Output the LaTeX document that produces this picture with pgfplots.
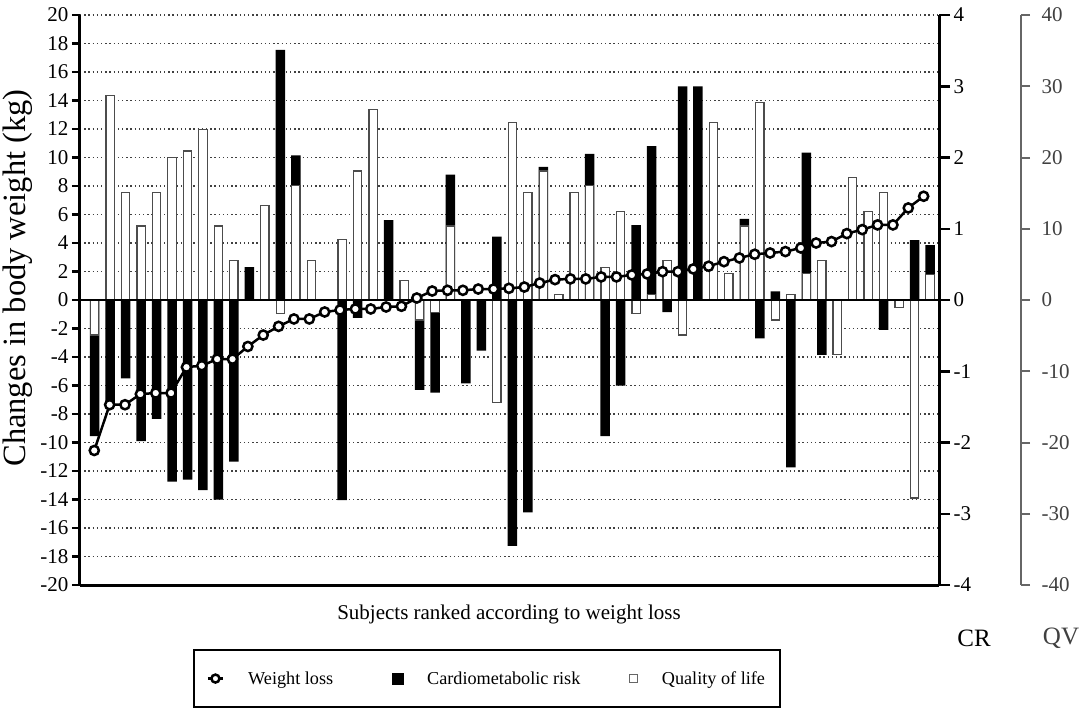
\documentclass[border=0pt]{standalone}
\usepackage{fontspec}
\setmainfont{Liberation Serif}
\usepackage{pgfplots}
\usepackage{pgfplotstable}
\pgfplotsset{compat=1.18}

\pgfplotstableread{
i wl cr qv
0 -10.56 -1.91 -4.9
1 -7.35 -1.46 28.7
2 -7.35 -1.10 15.1
3 -6.60 -1.98 10.4
4 -6.53 -1.67 15.1
5 -6.53 -2.55 20.0
6 -4.71 -2.52 20.9
7 -4.61 -2.67 23.9
8 -4.15 -2.80 10.4
9 -4.15 -2.27 5.6
10 -3.26 0.46 0
11 -2.46 0 13.3
12 -1.85 3.51 -1.9
13 -1.33 2.03 16.1
14 -1.33 0 5.6
15 -0.84 0 0
16 -0.70 -2.81 8.5
17 -0.63 -0.25 18.1
18 -0.63 0 26.7
19 -0.49 1.12 0
20 -0.44 0 2.7
21 0.14 -1.26 -2.8
22 0.63 -1.30 -1.8
23 0.68 1.76 10.4
24 0.68 -1.17 0
25 0.77 -0.71 0
26 0.77 0.89 -14.4
27 0.82 -3.45 24.9
28 0.91 -2.98 15.1
29 1.19 1.87 18.1
30 1.43 0 0.8
31 1.48 0 15.1
32 1.48 2.05 16.1
33 1.62 -1.91 4.6
34 1.62 -1.20 12.4
35 1.76 1.05 -1.9
36 1.83 2.16 0.8
37 1.99 -0.17 5.6
38 1.99 3.00 -4.9
39 2.18 3.00 0
40 2.37 0 24.9
41 2.69 0 3.7
42 2.95 1.14 10.4
43 3.21 -0.54 27.7
44 3.30 0.12 -2.8
45 3.40 -2.35 0.8
46 3.65 2.07 3.7
47 4.00 -0.77 5.6
48 4.10 0 -7.7
49 4.66 0 17.2
50 4.94 0 12.4
51 5.27 -0.42 15.1
52 5.27 0 -1.0
53 6.46 0.84 -27.8
54 7.28 0.77 3.6
}\data

\pgfplotsset{
  wlimg/.style={legend image code/.code={\draw[black, line width=2.5pt, mark=*, mark size=4pt,
     mark options={fill=white, draw=black, line width=2.5pt}, mark repeat=2, mark phase=2]
     plot coordinates {(0pt,0pt) (7.5pt,0pt) (15pt,0pt)};}},
  crimg/.style={legend image code/.code={\draw[black, mark=square*, mark size=5pt,
     mark options={fill=black}] plot coordinates {(7.5pt,0pt)};}},
  qvimg/.style={legend image code/.code={\draw[black!70, mark=square*, mark size=4.3pt,
     mark options={fill=white, draw=black!60, line width=1.1pt}] plot coordinates {(7.5pt,0pt)};}}
}

\begin{document}
\begin{tikzpicture}
\useasboundingbox (0,0) rectangle (1084pt,716pt);
\pgfplotsset{base/.style={at={(80pt,131pt)}, anchor=south west, width=859pt, height=570pt,
  scale only axis, xmin=-0.95, xmax=54.58, xtick=\empty,
  /pgf/number format/assume math mode=true,
  ticklabel style={font=\fontsize{21}{21}\selectfont}}}

% grid and left axis (kg)
\begin{axis}[base, ymin=-20, ymax=20, axis x line=bottom, axis y line=left,
  axis line style={-, line width=3pt, black},
  ytick={-20,-18,...,20}, ymajorgrids,
  major grid style={black!75, line width=1.4pt, dash pattern=on 1.4pt off 2.8pt},
  tick style={black, line width=2.5pt}, major tick length=8pt, tick align=outside]
\end{axis}

% cardiometabolic risk (CR axis)
\begin{axis}[base, ymin=-4, ymax=4, axis x line=none, axis y line=right,
  axis line style={-, line width=3pt, black},
  ytick={-4,-3,...,4}, tick style={black, line width=2.5pt},
  major tick length=11pt, tick align=outside]
\addplot[ybar, bar width=9.5pt, fill=black, draw=none] table[x=i, y=cr] {\data};
\end{axis}

% quality of life (QV axis)
\begin{axis}[base, ymin=-40, ymax=40, axis x line=middle, axis y line=none,
  axis line style={-, line width=2.5pt, black}, ytick=\empty, axis on top]
\addplot[ybar, bar width=8.3pt, fill=white, draw=black!70, line width=1.2pt] table[x=i, y=qv] {\data};
\end{axis}

% QV scale
\begin{axis}[at={(1021pt,131pt)}, anchor=south east, width=1pt, height=570pt, scale only axis,
  xmin=0, xmax=1, ymin=-40, ymax=40, axis x line=none, axis y line=right,
  axis line style={-, line width=2pt, black!60}, xtick=\empty,
  ytick={-40,-30,...,40}, tick style={black!60, line width=2pt},
  major tick length=9pt, tick align=outside,
  /pgf/number format/assume math mode=true,
  ticklabel style={font=\fontsize{21}{21}\selectfont, text=black!75},
  yticklabel style={xshift=8pt}]
\end{axis}

% weight loss line
\begin{axis}[at={(80pt,131pt)}, anchor=south west, width=859pt, height=570pt,
  scale only axis, xmin=-0.93, xmax=55.0, ymin=-20, ymax=20, hide axis,
  legend columns=3,
  legend style={at={(0.1312,-0.2153)}, anchor=south west, draw=black, line width=2pt,
    inner xsep=13pt, inner ysep=19pt, font=\fontsize{18.2}{20}\selectfont,
    /tikz/every odd column/.append style={column sep=22pt},
    /tikz/column 2/.append style={column sep=58pt},
    /tikz/column 4/.append style={column sep=47pt}},
  legend cell align=left]
\addplot[black, line width=2.5pt, mark=*, mark size=4.6pt,
  mark options={fill=white, draw=black, line width=2.5pt}, wlimg]
  table[x=i, y=wl] {\data};
\addlegendentry{Weight loss}
\addlegendimage{crimg}
\addlegendentry{Cardiometabolic risk}
\addlegendimage{qvimg}
\addlegendentry{Quality of life}
\end{axis}

\node[rotate=90, font=\fontsize{32.5}{33}\selectfont] at (18pt,438pt) {Changes in body weight (kg)};
\node[font=\fontsize{21}{21}\selectfont] at (509pt,102pt) {Subjects ranked according to weight loss};
\node[font=\fontsize{25}{25}\selectfont] at (974pt,78pt) {CR};
\node[font=\fontsize{25}{25}\selectfont, text=black!75] at (1061pt,78pt) {QV};
\end{tikzpicture}
\end{document}
